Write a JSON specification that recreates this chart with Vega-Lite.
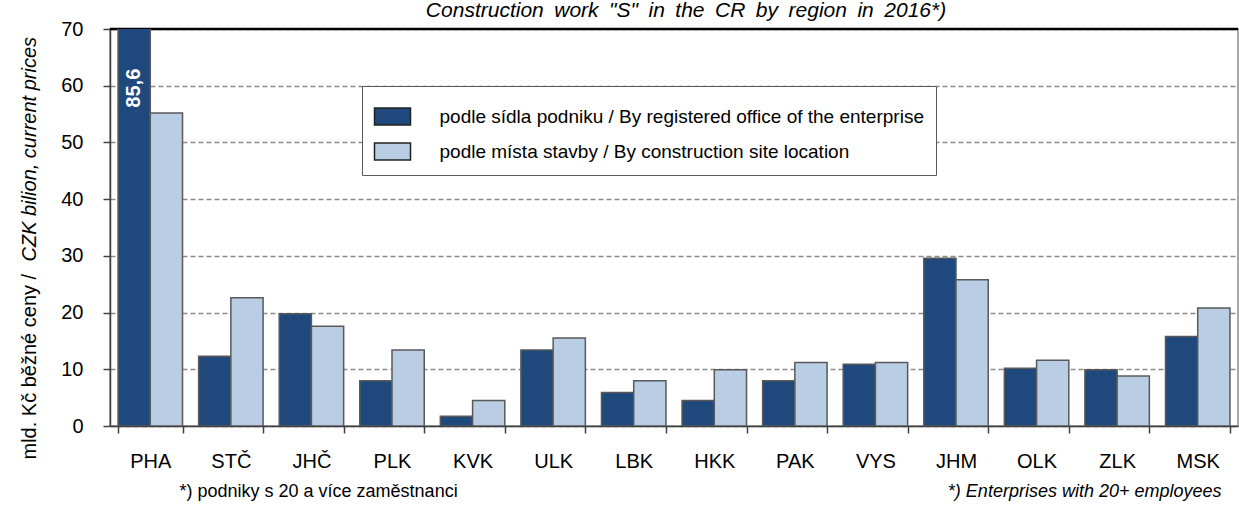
{
  "$schema": "https://vega.github.io/schema/vega-lite/v6.json",
  "autosize": {"type": "none"},
  "width": 1128,
  "height": 397,
  "padding": {"left": 110, "top": 29, "right": 1, "bottom": 81},
  "background": "white",
  "title": {
    "text": "Construction\u2002work\u2002\"S\"\u2002in\u2002the\u2002CR\u2002by\u2002region\u2002in\u20022016*)",
    "fontStyle": "italic", "fontSize": 21, "fontWeight": "normal", "font": "Liberation Sans",
    "color": "#000", "anchor": "middle", "baseline": "alphabetic", "offset": -19, "dx": 12, "frame": "group"
  },
  "config": {
    "font": "Liberation Sans",
    "view": {"stroke": "#8c8c8c", "strokeWidth": 1.5}
  },
  "resolve": {"axis": {"x": "independent", "y": "independent"}},
  "layer": [
    {
      "data": {"values": [{"top": 70}]},
      "mark": {"type": "rule", "color": "#000", "strokeWidth": 2.5},
      "encoding": {
        "y": {
          "field": "top", "type": "quantitative",
          "scale": {"domain": [0, 70], "nice": false, "zero": true},
          "axis": {
            "orient": "left", "labels": false, "ticks": false, "domain": false, "grid": false,
            "title": "CZK bilion, current prices", "titleFontStyle": "italic", "titleFontWeight": "normal",
            "titleFontSize": 20, "titleFont": "Liberation Sans", "titleColor": "#000",
            "titleAngle": 270, "titleAlign": "left", "titleBaseline": "middle", "titleX": -81, "titleY": 232
          }
        }
      }
    },
    {
      "data": {"values": [
        {"region": "PHA", "series": "podle sídla podniku / By registered office of the enterprise", "value": 85.6},
        {"region": "PHA", "series": "podle místa stavby / By construction site location", "value": 55.2},
        {"region": "STČ", "series": "podle sídla podniku / By registered office of the enterprise", "value": 12.3},
        {"region": "STČ", "series": "podle místa stavby / By construction site location", "value": 22.6},
        {"region": "JHČ", "series": "podle sídla podniku / By registered office of the enterprise", "value": 19.8},
        {"region": "JHČ", "series": "podle místa stavby / By construction site location", "value": 17.6},
        {"region": "PLK", "series": "podle sídla podniku / By registered office of the enterprise", "value": 8.0},
        {"region": "PLK", "series": "podle místa stavby / By construction site location", "value": 13.4},
        {"region": "KVK", "series": "podle sídla podniku / By registered office of the enterprise", "value": 1.7},
        {"region": "KVK", "series": "podle místa stavby / By construction site location", "value": 4.5},
        {"region": "ULK", "series": "podle sídla podniku / By registered office of the enterprise", "value": 13.4},
        {"region": "ULK", "series": "podle místa stavby / By construction site location", "value": 15.5},
        {"region": "LBK", "series": "podle sídla podniku / By registered office of the enterprise", "value": 5.9},
        {"region": "LBK", "series": "podle místa stavby / By construction site location", "value": 8.0},
        {"region": "HKK", "series": "podle sídla podniku / By registered office of the enterprise", "value": 4.5},
        {"region": "HKK", "series": "podle místa stavby / By construction site location", "value": 9.9},
        {"region": "PAK", "series": "podle sídla podniku / By registered office of the enterprise", "value": 8.0},
        {"region": "PAK", "series": "podle místa stavby / By construction site location", "value": 11.2},
        {"region": "VYS", "series": "podle sídla podniku / By registered office of the enterprise", "value": 10.9},
        {"region": "VYS", "series": "podle místa stavby / By construction site location", "value": 11.2},
        {"region": "JHM", "series": "podle sídla podniku / By registered office of the enterprise", "value": 29.6},
        {"region": "JHM", "series": "podle místa stavby / By construction site location", "value": 25.8},
        {"region": "OLK", "series": "podle sídla podniku / By registered office of the enterprise", "value": 10.2},
        {"region": "OLK", "series": "podle místa stavby / By construction site location", "value": 11.6},
        {"region": "ZLK", "series": "podle sídla podniku / By registered office of the enterprise", "value": 9.9},
        {"region": "ZLK", "series": "podle místa stavby / By construction site location", "value": 8.8},
        {"region": "MSK", "series": "podle sídla podniku / By registered office of the enterprise", "value": 15.8},
        {"region": "MSK", "series": "podle místa stavby / By construction site location", "value": 20.8}
      ]},
      "mark": {"type": "bar", "stroke": "#595959", "strokeWidth": 1.5, "clip": true},
      "encoding": {
        "x": {
          "field": "region", "type": "nominal",
          "scale": {"domain": ["PHA","STČ","JHČ","PLK","KVK","ULK","LBK","HKK","PAK","VYS","JHM","OLK","ZLK","MSK"], "paddingInner": 0.2, "paddingOuter": 0.1},
          "axis": {
            "orient": "bottom", "labelAngle": 0, "labelFontSize": 20, "labelFont": "Liberation Sans", "labelColor": "#000",
            "labelPadding": 18, "tickBand": "extent", "tickSize": 7, "tickColor": "#404040", "tickWidth": 1.5,
            "domainColor": "#404040", "domainWidth": 1.5, "grid": false,
            "title": "*) podniky s 20 a více zaměstnanci", "titleFontSize": 18, "titleFontWeight": "normal",
            "titleFont": "Liberation Sans", "titleColor": "#000", "titleAlign": "left", "titleBaseline": "alphabetic",
            "titleX": 69, "titleY": 70
          }
        },
        "xOffset": {
          "field": "series", "type": "nominal",
          "scale": {"domain": ["podle sídla podniku / By registered office of the enterprise", "podle místa stavby / By construction site location"], "paddingInner": 0, "paddingOuter": 0}
        },
        "y": {
          "field": "value", "type": "quantitative",
          "scale": {"domain": [0, 70], "nice": false},
          "axis": {
            "orient": "left", "values": [0,10,20,30,40,50,60,70], "labelFontSize": 20, "labelFont": "Liberation Sans",
            "labelColor": "#000", "labelPadding": 20, "tickSize": 7, "tickColor": "#404040", "tickWidth": 1.5,
            "domainColor": "#404040", "domainWidth": 1.5,
            "grid": true, "gridDash": [5, 3], "gridColor": "#8c8c8c", "gridWidth": 1.5,
            "title": "mld. Kč běžné ceny /", "titleFontSize": 20, "titleFontWeight": "normal", "titleFont": "Liberation Sans",
            "titleColor": "#000", "titleAngle": 270, "titleAlign": "left", "titleBaseline": "middle", "titleX": -81, "titleY": 430
          }
        },
        "color": {
          "field": "series", "type": "nominal",
          "scale": {"domain": ["podle sídla podniku / By registered office of the enterprise", "podle místa stavby / By construction site location"], "range": ["#1F497D", "#B9CDE5"]},
          "legend": {
            "orient": "none", "legendX": 252, "legendY": 57, "title": null, "direction": "vertical",
            "fillColor": "white", "strokeColor": "#595959", "padding": 11.5,
            "symbolType": "M-1,-0.47L1,-0.47L1,0.47L-1,0.47Z", "symbolSize": 1296,
            "symbolStrokeColor": "#222", "symbolStrokeWidth": 1.5, "symbolOpacity": 1,
            "labelFontSize": 19, "labelFont": "Liberation Sans", "labelColor": "#000",
            "labelOffset": 28, "labelLimit": 900, "rowPadding": 4
          }
        }
      }
    },
    {
      "data": {"values": [
        {"region": "PHA", "series": "podle sídla podniku / By registered office of the enterprise", "label": "85,6"}
      ]},
      "mark": {"type": "text", "angle": 270, "align": "right", "baseline": "middle", "color": "white", "fontWeight": "bold", "fontSize": 20, "font": "Liberation Sans"},
      "encoding": {
        "x": {
          "field": "region", "type": "nominal",
          "axis": {
            "orient": "bottom", "labels": false, "ticks": false, "domain": false, "grid": false,
            "title": "*) Enterprises with 20+ employees", "titleFontSize": 18, "titleFontWeight": "normal",
            "titleFontStyle": "italic", "titleFont": "Liberation Sans", "titleColor": "#000",
            "titleAlign": "right", "titleBaseline": "alphabetic", "titleX": 1111, "titleY": 70
          }
        },
        "xOffset": {"field": "series", "type": "nominal"},
        "y": {"datum": 63, "type": "quantitative", "axis": null},
        "text": {"field": "label"}
      }
    }
  ]
}
